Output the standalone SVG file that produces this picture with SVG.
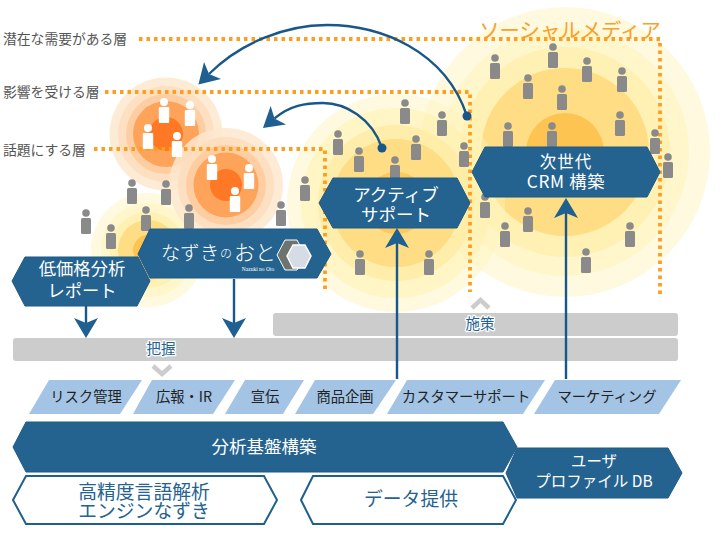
<svg xmlns="http://www.w3.org/2000/svg" width="720" height="534" viewBox="0 0 720 534">
<style>
text{font-family:"Noto Sans CJK JP","Noto Sans",sans-serif;text-anchor:middle}
.lvl{font-size:13.800px;fill:#555;text-anchor:start}
.dot{fill:none;stroke:#ff9d1e;stroke-width:3.800;stroke-dasharray:3.500 4}
.hex{fill:#246390;stroke:#1c5a88;stroke-width:1}
.wt{fill:#fff}
.out{fill:#fff;stroke:#1f5f8e;stroke-width:2}
.bt{fill:#246390}
.bar{fill:#ccc}
.halo{font-size:14.500px;fill:#246390;stroke:#fff;stroke-width:2.500;paint-order:stroke;stroke-linejoin:round}
.chev{fill:none;stroke:#ccc;stroke-width:4.500}
.para{fill:#a3c4e5}
.pt{font-size:14.300px;fill:#222}
.y1{fill:#fffadf}.y2{fill:#fff6cb}.y3{fill:#fff0b3}.y4{fill:#fedd84}.y5{fill:#fec452}
.m1{fill:#fff3b8;fill-opacity:.45}.m2{fill:#fff0ab;fill-opacity:.5}.m3{fill:#ffeaa0;fill-opacity:.7}.m4{fill:#fedd84}.m5{fill:#fec85a}
.o1{fill:#fde7cf;fill-opacity:.85}.o2{fill:#fddcbc;fill-opacity:.8}.o3{fill:#fec89a;fill-opacity:.8}.o4{fill:#fea45a}.o5{fill:#ff7825}
.conn{fill:none;stroke:#17578a;stroke-width:2.400}
</style>
<defs>
<g id="p"><circle cx="0" cy="0" r="3.800" fill="#8a8a8a"/><rect x="-5" y="5" width="10" height="16" rx="1.500" fill="#8a8a8a"/></g>
<g id="w"><circle cx="0" cy="0" r="4" fill="#fff"/><rect x="-5.200" y="5" width="10.400" height="16" rx="1" fill="#fff"/></g>
<marker id="ah" markerUnits="userSpaceOnUse" markerWidth="22" markerHeight="26" refX="5" refY="12" orient="auto" viewBox="0 0 22 24"><path d="M0,0 L20,12 L0,24 L5,12 Z" fill="#1f6090"/></marker>
</defs>

<g id="glow-right"><circle class="y1" cx="565" cy="152" r="145"/><circle class="y2" cx="565" cy="152" r="124"/><circle class="y3" cx="565" cy="152" r="105"/><circle class="y4" cx="565" cy="152" r="84"/><circle class="y5" cx="565" cy="152" r="39"/></g>
<g id="glow-mid"><circle class="m1" cx="396" cy="203" r="109"/><circle class="m2" cx="396" cy="203" r="95"/><circle class="m3" cx="396" cy="203" r="78"/><circle class="m4" cx="396" cy="203" r="64"/><circle class="m5" cx="396" cy="203" r="31"/></g>
<g id="glow-left"><circle class="y1" cx="148" cy="250" r="57"/><circle class="y2" cx="148" cy="250" r="47"/><circle class="y3" cx="148" cy="250" r="38"/><circle class="y4" cx="148" cy="250" r="30"/><circle class="y5" cx="148" cy="250" r="15"/></g>
<g id="glow-orange-1"><circle class="o1" cx="166" cy="134" r="56.500"/><circle class="o2" cx="166" cy="134" r="48"/><circle class="o3" cx="166" cy="134" r="40"/><circle class="o4" cx="166" cy="134" r="33"/><circle class="o5" cx="166" cy="134" r="17"/></g>
<g id="glow-orange-2"><circle class="o1" cx="226" cy="185" r="57"/><circle class="o2" cx="226" cy="185" r="48"/><circle class="o3" cx="226" cy="185" r="40"/><circle class="o4" cx="226" cy="185" r="32.500"/><circle class="o5" cx="226" cy="185" r="16"/></g>

<g id="layer-lines">
<path class="dot" d="M139,39 H660 V296"/>
<path class="dot" d="M105,92 H470 V292"/>
<path class="dot" d="M94,149 H325 V291"/>
</g>
<g id="labels">
<text class="lvl" x="3" y="44">潜在な需要がある層</text>
<text class="lvl" x="3" y="97">影響を受ける層</text>
<text class="lvl" x="3" y="155">話題にする層</text>
<text x="570" y="38" style="font-size:20.400px;fill:#fa9f2a">ソーシャルメディア</text>
</g>

<g id="people">
<use href="#p" x="132" y="183"/><use href="#p" x="166" y="184"/><use href="#p" x="86" y="213"/><use href="#p" x="111" y="228"/><use href="#p" x="146" y="210"/><use href="#p" x="189" y="208"/><use href="#p" x="281" y="205"/><use href="#p" x="305" y="180"/><use href="#p" x="338" y="134"/><use href="#p" x="359" y="151"/><use href="#p" x="405" y="103"/><use href="#p" x="442" y="115"/><use href="#p" x="416" y="139"/><use href="#p" x="395" y="160"/><use href="#p" x="464" y="146"/><use href="#p" x="360" y="254"/><use href="#p" x="429" y="254"/>
<use href="#p" x="495" y="58"/><use href="#p" x="553" y="47"/><use href="#p" x="587" y="61"/><use href="#p" x="622" y="71"/><use href="#p" x="528" y="78"/><use href="#p" x="562" y="89"/><use href="#p" x="620" y="115"/><use href="#p" x="508" y="126"/><use href="#p" x="552" y="126"/><use href="#p" x="655" y="133"/><use href="#p" x="668" y="157"/><use href="#p" x="485" y="197"/><use href="#p" x="528" y="211"/><use href="#p" x="505" y="226"/><use href="#p" x="630" y="226"/><use href="#p" x="586" y="252"/>
<use href="#w" x="164" y="102"/><use href="#w" x="190" y="105"/><use href="#w" x="148" y="128"/><use href="#w" x="177" y="136"/><use href="#w" x="212" y="159"/><use href="#w" x="249" y="168"/><use href="#w" x="235" y="191"/>
</g>

<g id="bars">
<rect class="bar" x="273" y="313" width="405" height="23" rx="3"/>
<rect class="bar" x="13" y="338" width="665" height="23" rx="3"/>
<polyline class="chev" points="472,308 480.500,300 489,308"/>
<polyline class="chev" points="153,366 162,374 171,366"/>
<text class="halo" x="480" y="329">施策</text>
<text class="halo" x="161" y="354">把握</text>
</g>

<g id="connectors">
<path class="conn" d="M467,116 C445,50 380,25 327,25 C285,25 240,43 209,74" marker-end="url(#ah)"/>
<path class="conn" d="M382,148 C372,118 345,103 323,103 C305,103 290,105.500 274.500,118.400" marker-end="url(#ah)"/>
<path class="conn" d="M397,379 V243" marker-end="url(#ah)"/>
<path class="conn" d="M566,379 V213" marker-end="url(#ah)"/>
<path class="conn" d="M86,306 V323" marker-end="url(#ah)"/>
<path class="conn" d="M234,279 V323" marker-end="url(#ah)"/>
<circle cx="467" cy="116" r="4.500" fill="#17578a"/>
<circle cx="382" cy="148" r="4.500" fill="#17578a"/>
</g>

<g id="node-nazuki">
<polygon class="hex" points="138,254 150,229 317,229 331,254 317,278 150,278"/>
<text class="wt" x="190" y="260" style="font-size:19.500px;font-weight:300">なずき</text>
<text class="wt" x="226" y="258" style="font-size:12px;font-weight:300">の</text>
<text class="wt" x="255" y="260" style="font-size:21px;font-weight:300">おと</text>
<text class="wt" x="258" y="271" style="font-size:5.500px;font-family:'Liberation Serif',serif">Nazuki no Oto</text>
<polygon points="277,255 285,240 297,240 305,255 297,270 285,270" fill="#6d746f" stroke="#fff" stroke-width="1"/>
<polygon points="287,256 293,245 305,245 311,256 305,268 293,268" fill="#d5dce4" stroke="#fff" stroke-width="1.500"/>
</g>
<g id="node-report">
<polygon class="hex" points="12,281 25,257 138,257 150,281 137,306 25,306"/>
<text class="wt" x="82" y="275" style="font-size:17.300px">低価格分析</text>
<text class="wt" x="82" y="297" style="font-size:17.300px">レポート</text>
</g>
<g id="node-active">
<polygon class="hex" points="319,203 333,178 457,178 470,203 457,228 333,228"/>
<text class="wt" x="396" y="201" style="font-size:17.500px">アクティブ</text>
<text class="wt" x="396" y="221" style="font-size:17.500px">サポート</text>
</g>
<g id="node-crm">
<polygon class="hex" points="472,172 485,147 647,147 660,172 647,197 485,197"/>
<text class="wt" x="566" y="168" style="font-size:16.500px;letter-spacing:1px">次世代</text>
<text class="wt" x="566" y="188" style="font-size:17.300px;letter-spacing:.7px">CRM 構築</text>
</g>

<g id="node-risk"><polygon class="para" points="29,414 49,380 142,380 120,414"/><text class="pt" x="86" y="402">リスク管理</text></g>
<g id="node-pr"><polygon class="para" points="133,414 152,380 235,380 213,414"/><text class="pt" x="184" y="402">広報・IR</text></g>
<g id="node-ad"><polygon class="para" points="225,414 245,380 304,380 283,414"/><text class="pt" x="265" y="402">宣伝</text></g>
<g id="node-product"><polygon class="para" points="295,414 315,380 396,380 373,414"/><text class="pt" x="345" y="402">商品企画</text></g>
<g id="node-support"><polygon class="para" points="387,414 407,380 545,380 523,414"/><text class="pt" x="466" y="402">カスタマーサポート</text></g>
<g id="node-marketing"><polygon class="para" points="534,414 555,380 681,380 659,414"/><text class="pt" x="607" y="402">マーケティング</text></g>

<g id="node-base">
<polygon class="hex" points="13,447 26,422 503,422 517,447 503,472 26,472"/>
<text class="wt" x="264" y="453" style="font-size:17.500px">分析基盤構築</text>
</g>
<g id="node-db">
<polygon class="hex" points="506,473 517,448 668,448 682,473 668,498 517,498"/>
<text class="wt" x="594" y="467" style="font-size:15.500px">ユーザ</text>
<text class="wt" x="594" y="487" style="font-size:15.500px">プロファイル DB</text>
</g>
<g id="node-engine">
<polygon class="out" points="13,500 26,476 264,476 277,500 264,524 26,524"/>
<text class="bt" x="144" y="499" style="font-size:18.800px">高精度言語解析</text>
<text class="bt" x="144" y="518" style="font-size:18.800px">エンジンなずき</text>
</g>
<g id="node-data">
<polygon class="out" points="301,500 313,476 503,476 516,500 503,524 313,524"/>
<text class="bt" x="411" y="506" style="font-size:18.800px">データ提供</text>
</g>
</svg>
